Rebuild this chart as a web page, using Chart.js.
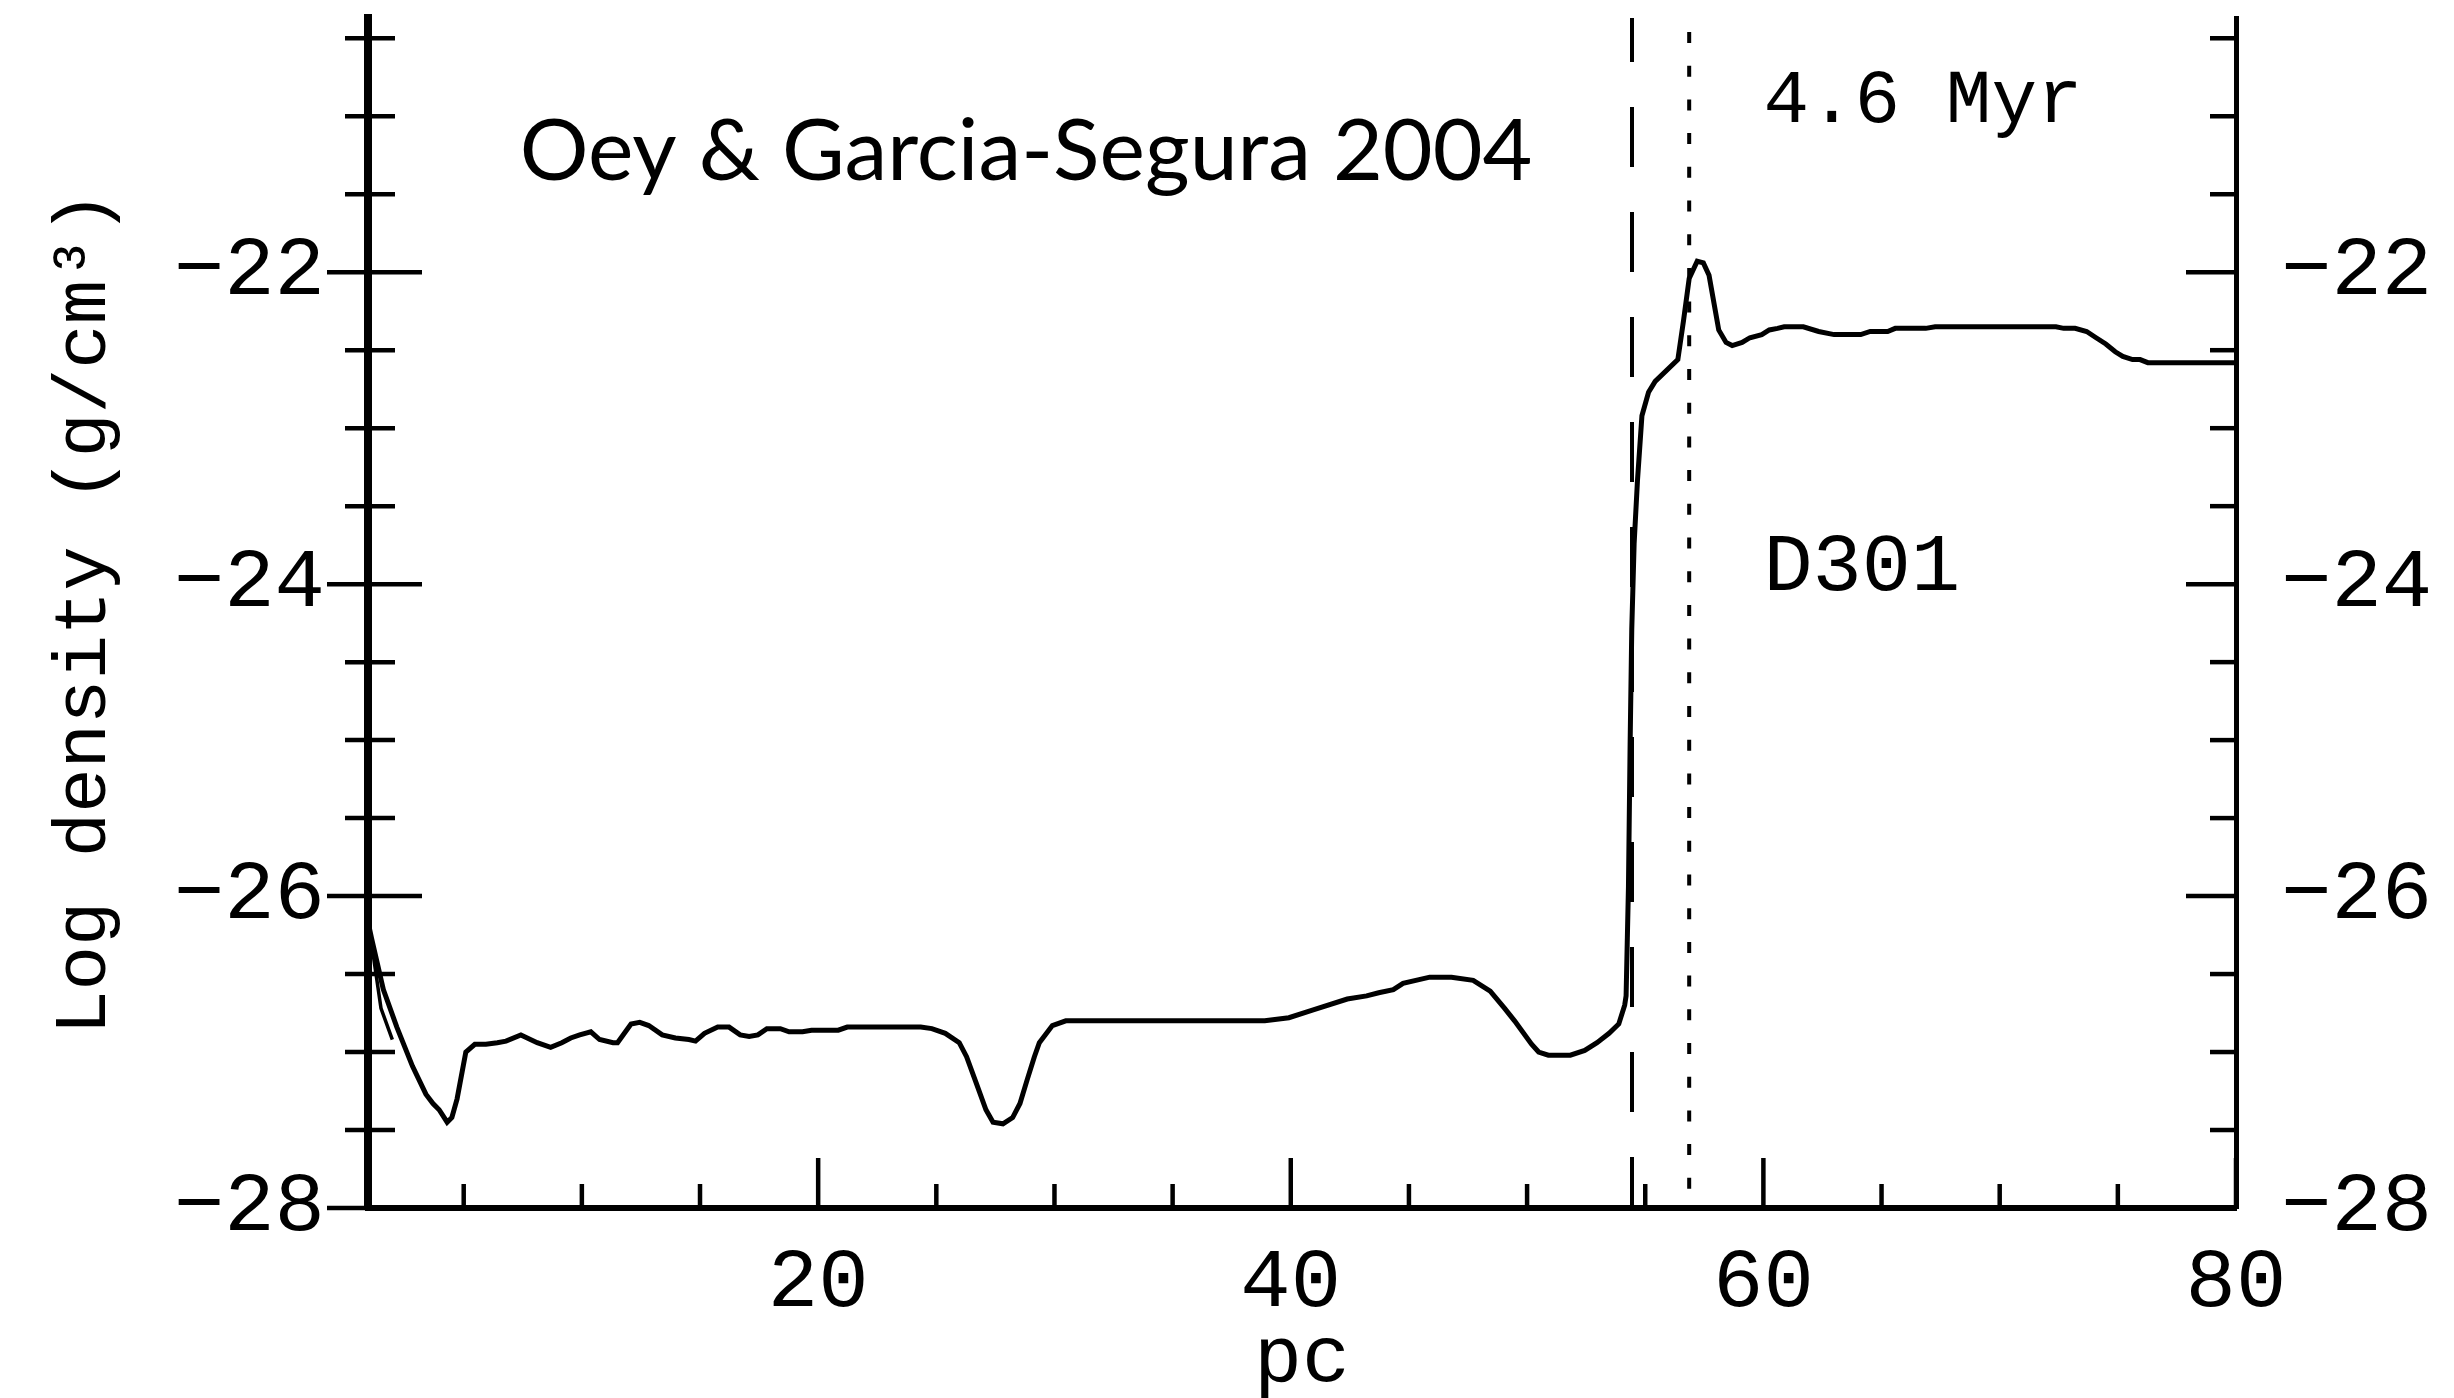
<!DOCTYPE html>
<html>
<head>
<meta charset="utf-8">
<script src="https://cdn.jsdelivr.net/npm/chart.js@4.4.1/dist/chart.umd.min.js"></script>
<style>
  html, body { margin: 0; padding: 0; background: #ffffff; }
  #wrap { width: 2454px; height: 1398px; }
</style>
</head>
<body>
<div id="wrap"><canvas id="c" width="2454" height="1398"></canvas></div>
<script>
// ---- data ----
const xTickLabels = [20, 40, 60, 80];
const yTickLabels = [-28, -26, -24, -22];

const radiusPc = [
  1.00, 1.10, 1.60, 2.17, 2.83, 3.40, 3.70, 3.96, 4.30, 4.50, 4.72, 5.09, 5.47, 5.94, 6.42, 6.79,
  7.42, 8.11, 8.68, 9.15, 9.53, 9.91, 10.38, 10.75, 11.32, 11.51, 12.08, 12.45, 12.83, 13.40,
  13.96, 14.53, 14.81, 15.19, 15.75, 16.23, 16.70, 17.08, 17.45, 17.83, 18.40, 18.77, 19.34,
  19.72, 20.85, 21.23, 24.34, 24.81, 25.38, 25.97, 26.28, 26.69, 27.10, 27.40, 27.82, 28.23,
  28.54, 28.84, 29.15, 29.36, 29.91, 30.48, 38.90, 39.92, 40.95, 42.39, 43.21, 43.72, 44.34,
  44.75, 45.88, 46.80, 47.72, 48.44, 49.05, 49.47, 50.19, 50.49, 50.90, 51.83, 52.44, 52.96,
  53.47, 53.88, 54.13, 54.19, 54.29, 54.36, 54.43, 54.53, 54.67, 54.86, 55.14, 55.42, 56.38,
  56.62, 56.86, 57.20, 57.46, 57.70, 58.11, 58.42, 58.68, 59.10, 59.43, 59.93, 60.25, 60.60,
  60.88, 61.69, 62.34, 62.99, 64.12, 64.52, 65.26, 65.58, 65.90, 66.87, 67.27, 72.38, 72.71,
  73.19, 73.68, 74.08, 74.49, 74.89, 75.21, 75.62, 75.94, 76.27, 80.00
];
const logDensity = [
  -26.20, -26.27, -26.60, -26.84, -27.09, -27.27, -27.33, -27.37, -27.45, -27.42, -27.30, -27.00,
  -26.95, -26.95, -26.94, -26.93, -26.89, -26.94, -26.97, -26.94, -26.91, -26.89, -26.87, -26.92,
  -26.94, -26.94, -26.82, -26.81, -26.83, -26.89, -26.91, -26.92, -26.93, -26.88, -26.84, -26.84,
  -26.89, -26.90, -26.89, -26.85, -26.85, -26.87, -26.87, -26.86, -26.86, -26.84, -26.84, -26.85,
  -26.88, -26.94, -27.03, -27.20, -27.37, -27.45, -27.46, -27.42, -27.33, -27.18, -27.03, -26.94,
  -26.83, -26.80, -26.80, -26.78, -26.73, -26.66, -26.64, -26.62, -26.60, -26.56, -26.52, -26.52,
  -26.54, -26.61, -26.72, -26.80, -26.95, -27.00, -27.02, -27.02, -26.99, -26.94, -26.88, -26.82,
  -26.70, -26.64, -25.94, -25.03, -24.29, -23.74, -23.34, -22.92, -22.77, -22.70, -22.56, -22.31,
  -22.04, -21.93, -21.94, -22.02, -22.37, -22.45, -22.47, -22.45, -22.42, -22.40, -22.37, -22.36,
  -22.35, -22.35, -22.38, -22.40, -22.40, -22.38, -22.38, -22.36, -22.36, -22.36, -22.35, -22.35,
  -22.36, -22.36, -22.38, -22.42, -22.46, -22.51, -22.54, -22.56, -22.56, -22.58, -22.58
];

// short overlapping trace near the origin
const branchPc = [1.00, 1.50, 1.98];
const branchLogDensity = [-26.20, -26.72, -26.92];

// vertical markers (pc)
const shellInnerPc = 54.44;   // dashed
const shellOuterPc = 56.86;   // dotted

const xMin = 0.95, xMax = 80;
const yMin = -28, yMax = -20.37;

const toPoints = (xs, ys) => xs.map((x, i) => ({ x: x, y: ys[i] }));
const fmtY = v => (v < 0 ? '\u2212' : '') + Math.abs(v);

const LABEL_FONT = 'Liberation Mono, DejaVu Sans Mono, monospace';

// ---- plugin: inward tick marks and text annotations ----
const decorations = {
  id: 'decorations',
  afterDraw(chart) {
    const ctx = chart.ctx;
    const xs = chart.scales.x, yl = chart.scales.y, yr = chart.scales.y2;
    const a = chart.chartArea;
    ctx.save();
    ctx.strokeStyle = '#000';
    ctx.lineWidth = 4.5;
    ctx.lineCap = 'butt';
    // bottom ticks every 5 pc, longer every 20
    for (let v = 5; v <= xMax + 1e-9; v += 5) {
      const px = xs.getPixelForValue(v);
      const len = (v % 20 === 0) ? 50 : 24;
      ctx.beginPath(); ctx.moveTo(px, a.bottom); ctx.lineTo(px, a.bottom - len); ctx.stroke();
    }
    // y ticks every 0.5, longer every 2
    for (let v = yMin; v <= yMax + 1e-9; v += 0.5) {
      const py = yl.getPixelForValue(v);
      const major = Math.abs(v - 2 * Math.round(v / 2)) < 1e-6;
      ctx.beginPath();
      if (major) { ctx.moveTo(a.left - 41, py); ctx.lineTo(a.left + 54, py); }
      else { ctx.moveTo(a.left - 23, py); ctx.lineTo(a.left + 27, py); }
      ctx.stroke();
      const pr = yr.getPixelForValue(v);
      ctx.beginPath();
      ctx.moveTo(a.right, pr); ctx.lineTo(a.right - (major ? 50 : 26), pr);
      ctx.stroke();
    }
    // annotations
    ctx.fillStyle = '#000';
    ctx.textBaseline = 'alphabetic';
    ctx.textAlign = 'left';
    ctx.font = '400 86px Lato, "Open Sans", sans-serif';
    ctx.fillText('Oey & Garcia-Segura 2004', xs.getPixelForValue(7.37), yl.getPixelForValue(-21.41));
    ctx.font = '76px ' + LABEL_FONT;
    ctx.fillText('4.6 Myr', xs.getPixelForValue(60.0), yl.getPixelForValue(-21.04));
    ctx.font = '82px ' + LABEL_FONT;
    ctx.fillText('D301', xs.getPixelForValue(60.0), yl.getPixelForValue(-24.04));
    ctx.restore();
  }
};

const tickFont = { family: LABEL_FONT, size: 84 };
const noPadY = s => { s.paddingTop = 0; s.paddingBottom = 0; };

new Chart(document.getElementById('c'), {
  type: 'scatter',
  data: {
    datasets: [
      {
        label: 'Log density',
        data: toPoints(radiusPc, logDensity),
        showLine: true, borderColor: '#000', borderWidth: 5,
        pointRadius: 0, tension: 0, order: 1
      },
      {
        label: 'overlap',
        data: toPoints(branchPc, branchLogDensity),
        showLine: true, borderColor: '#000', borderWidth: 3.5,
        pointRadius: 0, tension: 0, order: 2
      },
      {
        label: 'inner shell',
        data: [{ x: shellInnerPc, y: yMax }, { x: shellInnerPc, y: yMin }],
        showLine: true, borderColor: '#000', borderWidth: 4,
        borderDash: [60, 45], borderDashOffset: 16,
        pointRadius: 0, order: 3
      },
      {
        label: 'outer shell',
        data: [{ x: shellOuterPc, y: yMax }, { x: shellOuterPc, y: yMin }],
        showLine: true, borderColor: '#000', borderWidth: 4,
        borderDash: [11, 22.7], borderDashOffset: 19.7,
        pointRadius: 0, order: 4
      }
    ]
  },
  options: {
    responsive: false,
    devicePixelRatio: 1,
    animation: false,
    layout: { padding: { top: 18, left: 0, right: 0, bottom: 0 } },
    plugins: { legend: { display: false }, tooltip: { enabled: false } },
    scales: {
      x: {
        type: 'linear', position: 'bottom', min: xMin, max: xMax,
        afterBuildTicks: s => { s.ticks = xTickLabels.map(v => ({ value: v })); },
        afterFit: s => { s.height = 190; s.paddingLeft = 0; s.paddingRight = 0; },
        grid: { display: false, drawTicks: false },
        border: { display: true, width: 6, color: '#000' },
        ticks: { font: tickFont, color: '#000', padding: 25, maxRotation: 0, autoSkip: false,
                 callback: v => String(v) },
        title: { display: true, text: 'pc', color: '#000',
                 font: { family: LABEL_FONT, size: 80, lineHeight: 0.8 }, padding: { top: 0, bottom: 6 } }
      },
      y: {
        type: 'linear', position: 'left', min: yMin, max: yMax,
        afterBuildTicks: s => { s.ticks = yTickLabels.map(v => ({ value: v })); },
        afterFit: s => { s.width = 368; noPadY(s); },
        grid: { display: false, drawTicks: false },
        border: { display: true, width: 8, color: '#000' },
        ticks: { font: tickFont, color: '#000', padding: 43, autoSkip: false, callback: fmtY },
        title: { display: true, text: 'Log density (g/cm\u00B3)', color: '#000',
                 font: { family: LABEL_FONT, size: 74 }, padding: { top: 41, bottom: 0 } }
      },
      y2: {
        type: 'linear', position: 'right', min: yMin, max: yMax,
        afterBuildTicks: s => { s.ticks = yTickLabels.map(v => ({ value: v })); },
        afterFit: s => { s.width = 218; noPadY(s); },
        grid: { display: false, drawTicks: false },
        border: { display: true, width: 5, color: '#000' },
        ticks: { font: tickFont, color: '#000', padding: 45, autoSkip: false, callback: fmtY }
      }
    }
  },
  plugins: [decorations]
});
</script>
</body>
</html>
